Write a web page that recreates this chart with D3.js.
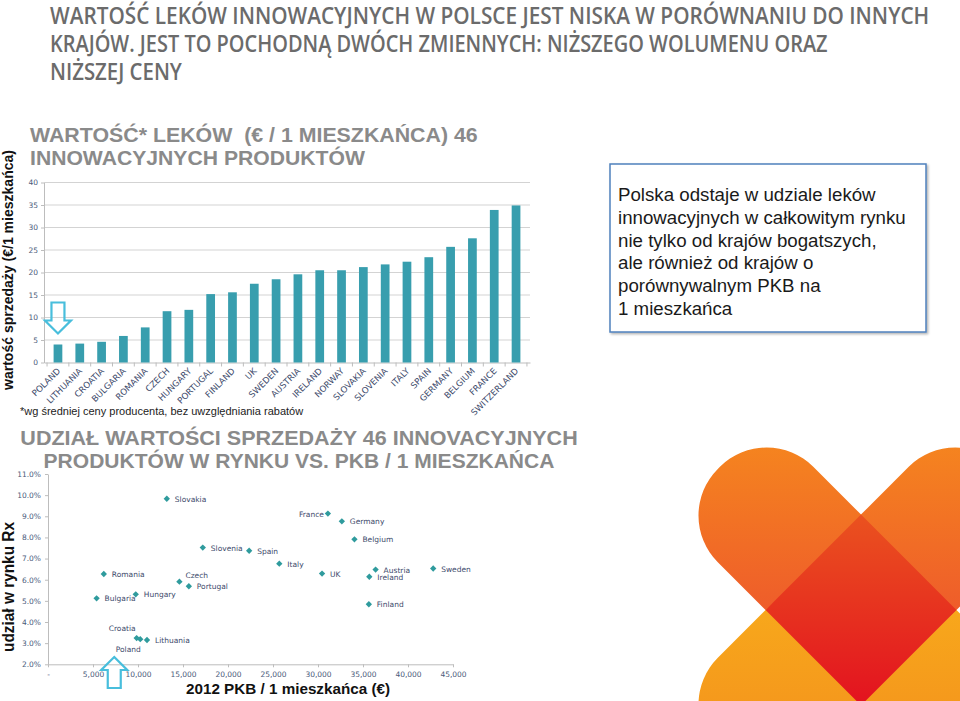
<!DOCTYPE html>
<html>
<head>
<meta charset="utf-8">
<script src="https://cdn.jsdelivr.net/npm/d3@7"></script>
<style>
body{margin:0;background:#fff;}
svg{display:block;}
</style>
</head>
<body>
<div id="viz"></div>
<script>
// --- data: value of innovative drugs per inhabitant (EUR) ---
const countries = ['POLAND','LITHUANIA','CROATIA','BULGARIA','ROMANIA','CZECH','HUNGARY','PORTUGAL','FINLAND','UK','SWEDEN',
    'AUSTRIA','IRELAND','NORWAY','SLOVAKIA','SLOVENIA','ITALY','SPAIN','GERMANY','BELGIUM','FRANCE','SWITZERLAND'];
const valuePerCapita = [4.0,4.2,4.6,5.9,7.8,11.4,11.7,15.2,15.6,17.5,18.5,19.6,20.5,20.5,21.2,21.8,22.4,23.4,25.7,27.6,33.9,34.9];
const barTicks = [0,5,10,15,20,25,30,35,40];

// --- data: share of innovative drugs in Rx market vs GDP per inhabitant ---
const gdpCountries = ['Poland','Lithuania','Croatia','Bulgaria','Romania','Czech','Hungary','Portugal','Finland','UK','Sweden',
    'Austria','Ireland','Slovakia','Slovenia','Italy','Spain','Germany','Belgium','France'];
const gdpPerCapita = [10250,11000,9850,5400,6200,14600,9750,15650,35650,30450,42800,36400,35700,13200,17200,25700,22350,32650,34050,31100];
const innovShare = [3.19,3.15,3.24,5.12,6.27,5.91,5.31,5.69,4.84,6.29,6.53,6.48,6.14,9.83,7.52,6.76,7.37,8.76,7.91,9.13];
const shareTicks = [2,3,4,5,6,7,8,9,10,11];
const gdpTicks = [0,5000,10000,15000,20000,25000,30000,35000,40000,45000];

const titleLines = ['WARTOŚĆ LEKÓW INNOWACYJNYCH W POLSCE JEST NISKA W PORÓWNANIU DO INNYCH',
    'KRAJÓW. JEST TO POCHODNĄ DWÓCH ZMIENNYCH: NIŻSZEGO WOLUMENU ORAZ',
    'NIŻSZEJ CENY'];
const noteLines = ['Polska odstaje w udziale leków','innowacyjnych w całkowitym rynku','nie tylko od krajów bogatszych,',
    'ale również od krajów o','porównywalnym PKB na','1 mieszkańca'];

const COLOR = {bar:'#389eae', dot:'#2f9b9d', grid:'#d3d3d3', axis:'#bdbdbd', tick:'#4a5a7a', label:'#3d4a6b',
    title:'#8a8a8a', head:'#6b6b6b', arrow:'#48bedc'};

const svg = d3.select('#viz').append('svg')
    .attr('width', 960)
    .attr('height', 701)
    .style('font-family', 'Liberation Sans, Arial, sans-serif');

const defs = svg.append('defs');

// squeeze a text horizontally so it spans the given width
function fitWidth(sel, x, y, width){
    sel.each(function(){
        const w = this.getComputedTextLength();
        d3.select(this).attr('transform', `translate(${x},${y}) scale(${width / w},1)`);
    });
}

// ---------- page title ----------
const titleWidths = [880, 778, 132];
svg.selectAll('.head')
    .data(titleLines)
    .enter()
    .append('text')
    .attr('class', 'head')
    .attr('font-family', 'Open Sans, sans-serif')
    .attr('font-size', 24)
    .attr('font-weight', 600)
    .attr('fill', COLOR.head)
    .text(d => d)
    .each(function(d, i){ fitWidth(d3.select(this), 50, 24 + i * 28, titleWidths[i]); });

// ---------- bar chart ----------
const xBar = d3.scaleBand()
    .domain(countries)
    .range([44, 530])
    .paddingInner(0.6)
    .paddingOuter(0.44);
const yBar = d3.scaleLinear()
    .domain([0, 40])
    .range([362.5, 182.5]);

function chartTitle(lines, x, y0, widths, anchor){
    svg.append('g').selectAll('text')
        .data(lines)
        .enter()
        .append('text')
        .attr('text-anchor', anchor)
        .attr('font-size', 20)
        .attr('font-weight', 'bold')
        .attr('fill', COLOR.title)
        .style('white-space', 'pre')
        .text(d => d)
        .each(function(d, i){
            const el = d3.select(this);
            const w = this.getComputedTextLength();
            el.attr('transform', `translate(${x},${y0 + i * 23}) scale(${widths[i] / w},1)`);
        });
}
chartTitle(['WARTOŚĆ* LEKÓW  (€ / 1 MIESZKAŃCA) 46', 'INNOWACYJNYCH PRODUKTÓW'], 30, 142, [448, 335], 'start');

const barG = svg.append('g');

barG.selectAll('.grid')
    .data(barTicks.filter(d => d > 0))
    .enter()
    .append('line')
    .attr('class', 'grid')
    .attr('x1', 44)
    .attr('x2', 530)
    .attr('y1', d => yBar(d))
    .attr('y2', d => yBar(d))
    .attr('stroke', COLOR.grid);

const yAxisBar = barG.append('g')
    .attr('transform', 'translate(44,0)')
    .call(d3.axisLeft(yBar).tickValues(barTicks).tickSize(3).tickSizeOuter(0).tickPadding(3));
yAxisBar.select('.domain').attr('stroke', COLOR.axis);
yAxisBar.selectAll('line').attr('stroke', COLOR.axis);
yAxisBar.selectAll('text').attr('fill', COLOR.tick).attr('font-size', 7.5).attr('font-family', 'DejaVu Sans, sans-serif');

const xAxisBar = barG.append('g')
    .attr('transform', `translate(0,${yBar(0)})`)
    .call(d3.axisBottom(xBar).tickSize(0).tickSizeOuter(0).tickFormat(''));
xAxisBar.select('.domain').attr('stroke', COLOR.axis);

const step = xBar.step();
const edges = countries.map(c => xBar(c) - step * 0.3).concat([xBar(countries[countries.length - 1]) + step * 0.7]);
barG.selectAll('.edge')
    .data(edges)
    .enter()
    .append('line')
    .attr('class', 'edge')
    .attr('x1', d => d)
    .attr('x2', d => d)
    .attr('y1', yBar(0))
    .attr('y2', yBar(0) + 4)
    .attr('stroke', COLOR.axis);

barG.selectAll('.bar')
    .data(valuePerCapita)
    .enter()
    .append('rect')
    .attr('class', 'bar')
    .attr('x', (d, i) => xBar(countries[i]))
    .attr('y', d => yBar(d))
    .attr('width', xBar.bandwidth())
    .attr('height', d => yBar(0) - yBar(d))
    .attr('fill', COLOR.bar);

barG.selectAll('.cat')
    .data(countries)
    .enter()
    .append('text')
    .attr('class', 'cat')
    .attr('transform', d => `translate(${xBar(d) + xBar.bandwidth() / 2 + 3},${yBar(0) + 9}) rotate(-45)`)
    .attr('text-anchor', 'end')
    .attr('font-family', 'DejaVu Sans, sans-serif')
    .attr('font-size', 8.6)
    .attr('fill', COLOR.label)
    .text(d => d);

svg.append('text')
    .attr('transform', 'translate(13,270) rotate(-90)')
    .attr('text-anchor', 'middle')
    .attr('font-size', 15)
    .attr('font-weight', 'bold')
    .attr('fill', '#111')
    .attr('textLength', 240)
    .attr('lengthAdjust', 'spacingAndGlyphs')
    .text('wartość sprzedaży (€/1 mieszkańca)');

svg.append('text')
    .attr('x', 20)
    .attr('y', 415)
    .attr('font-size', 11)
    .attr('fill', '#222')
    .text('*wg średniej ceny producenta, bez uwzględniania rabatów');

// hollow arrows pointing at Poland
function arrow(tx, ty, s){
    const p = [[0,0],[13,13],[6.5,13],[6.5,31],[-6.5,31],[-6.5,13],[-13,13]]
        .map(([a, b]) => [tx + a, ty + s * b]);
    svg.append('path')
        .attr('d', d3.line()(p) + 'Z')
        .attr('fill', 'none')
        .attr('stroke', COLOR.arrow)
        .attr('stroke-width', 2.2)
        .attr('stroke-linejoin', 'miter');
}
arrow(xBar('POLAND') + xBar.bandwidth() / 2, yBar(valuePerCapita[0]) - 11, -1);

// ---------- note box ----------
const shadow = defs.append('filter').attr('id', 'shadow').attr('x', '-5%').attr('y', '-5%').attr('width', '115%').attr('height', '115%');
shadow.append('feDropShadow').attr('dx', 1.5).attr('dy', 1.5).attr('stdDeviation', 1.2).attr('flood-color', '#000').attr('flood-opacity', 0.3);

svg.append('rect')
    .attr('x', 610)
    .attr('y', 164)
    .attr('width', 316)
    .attr('height', 168)
    .attr('fill', '#fff')
    .attr('stroke', '#4f81bd')
    .attr('stroke-width', 1.5)
    .attr('filter', 'url(#shadow)');

svg.selectAll('.note')
    .data(noteLines)
    .enter()
    .append('text')
    .attr('class', 'note')
    .attr('x', 618)
    .attr('y', (d, i) => 201 + i * 22.8)
    .attr('font-size', 18.7)
    .attr('fill', '#1a1a1a')
    .text(d => d);

// ---------- scatter ----------
chartTitle(['UDZIAŁ WARTOŚCI SPRZEDAŻY 46 INNOVACYJNYCH', 'PRODUKTÓW W RYNKU VS. PKB / 1 MIESZKAŃCA'], 299, 445, [558, 511], 'middle');

const xSc = d3.scaleLinear().domain([0, 45000]).range([48, 453]);
const ySc = d3.scaleLinear().domain([2, 11]).range([664.3, 474]);

const scG = svg.append('g');
const xAxisSc = scG.append('g')
    .attr('transform', `translate(0,${ySc(2)})`)
    .call(d3.axisBottom(xSc).tickValues(gdpTicks).tickSize(3).tickSizeOuter(0).tickPadding(4)
        .tickFormat(d => d === 0 ? '-' : d3.format(',')(d)));
const yAxisSc = scG.append('g')
    .attr('transform', `translate(${xSc(0)},0)`)
    .call(d3.axisLeft(ySc).tickValues(shareTicks).tickSize(3).tickSizeOuter(0).tickPadding(4)
        .tickFormat(d => d3.format('.1f')(d) + '%'));
[xAxisSc, yAxisSc].forEach(ax => {
    ax.select('.domain').attr('stroke', COLOR.axis);
    ax.selectAll('line').attr('stroke', COLOR.axis);
    ax.selectAll('text').attr('fill', COLOR.tick).attr('font-size', 7.5).attr('font-family', 'DejaVu Sans, sans-serif');
});

scG.selectAll('.dot')
    .data(gdpPerCapita)
    .enter()
    .append('path')
    .attr('class', 'dot')
    .attr('d', d3.symbol(d3.symbolSquare, 20))
    .attr('transform', (d, i) => `translate(${xSc(d)},${ySc(innovShare[i])}) rotate(45)`)
    .attr('fill', COLOR.dot);

// label placement around each point
const labelAt = {
    France:  {dx: -4,  dy: 3,  anchor: 'end'},
    Czech:   {dx: 6,   dy: -4, anchor: 'start'},
    Croatia: {dx: -1,  dy: -7, anchor: 'end'},
    Poland:  {dx: -12, dy: 13, anchor: 'middle'}
};
scG.selectAll('.lab')
    .data(gdpCountries)
    .enter()
    .append('text')
    .attr('class', 'lab')
    .each(function(d, i){
        const pos = labelAt[d] || {dx: 8, dy: 3, anchor: 'start'};
        d3.select(this)
            .attr('x', xSc(gdpPerCapita[i]) + pos.dx)
            .attr('y', ySc(innovShare[i]) + pos.dy)
            .attr('text-anchor', pos.anchor);
    })
    .attr('font-family', 'DejaVu Sans, sans-serif')
    .attr('font-size', 7.5)
    .attr('fill', COLOR.label)
    .text(d => d);

arrow(xSc(gdpPerCapita[0]) - 26, ySc(2) - 7.3, 1);

svg.append('text')
    .attr('transform', 'translate(14,587) rotate(-90)')
    .attr('text-anchor', 'middle')
    .attr('font-size', 16)
    .attr('font-weight', 'bold')
    .attr('fill', '#111')
    .attr('textLength', 130)
    .attr('lengthAdjust', 'spacingAndGlyphs')
    .text('udział w rynku Rx');

svg.append('text')
    .attr('x', 288)
    .attr('y', 694)
    .attr('text-anchor', 'middle')
    .attr('font-size', 15)
    .attr('font-weight', 'bold')
    .attr('fill', '#111')
    .attr('textLength', 204)
    .attr('lengthAdjust', 'spacingAndGlyphs')
    .text('2012 PKB / 1 mieszkańca (€)');

// ---------- heart logo ----------
const C = [861, 610], W = 135, L = 201, R = 66;

function grad(id, y1, y2, c1, c2){
    const g = defs.append('linearGradient')
        .attr('id', id)
        .attr('gradientUnits', 'userSpaceOnUse')
        .attr('x1', 0).attr('x2', 0).attr('y1', y1).attr('y2', y2);
    g.append('stop').attr('offset', 0).attr('stop-color', c1);
    g.append('stop').attr('offset', 1).attr('stop-color', c2);
}
grad('gOrange', 445, 620, '#f5841f', '#ee5a2b');
grad('gYellow', 600, 760, '#f8a91b', '#f3901d');
grad('gRed', C[1] - W / Math.SQRT2, C[1] + W / Math.SQRT2, '#ea521f', '#e3121f');

const lobes = [
    {id: 'lobeUL', rot: 45,  x0: -L, fill: 'gOrange'},
    {id: 'lobeLR', rot: 45,  x0: 0,  fill: 'gYellow'},
    {id: 'lobeUR', rot: -45, x0: 0,  fill: 'gOrange'},
    {id: 'lobeLL', rot: -45, x0: -L, fill: 'gYellow'}
];
lobes.forEach(l => {
    defs.append('clipPath')
        .attr('id', l.id)
        .append('rect')
        .attr('transform', `translate(${C[0]},${C[1]}) rotate(${l.rot})`)
        .attr('x', l.x0)
        .attr('y', -W / 2)
        .attr('width', L)
        .attr('height', W)
        .attr('rx', R);
    svg.append('rect')
        .attr('x', 560)
        .attr('y', 400)
        .attr('width', 400)
        .attr('height', 301)
        .attr('fill', `url(#${l.fill})`)
        .attr('clip-path', `url(#${l.id})`);
});

const h = W / Math.SQRT2;
svg.append('path')
    .attr('d', d3.line()([[C[0], C[1] - h], [C[0] + h, C[1]], [C[0], C[1] + h], [C[0] - h, C[1]]]) + 'Z')
    .attr('fill', 'url(#gRed)');
</script>
</body>
</html>
